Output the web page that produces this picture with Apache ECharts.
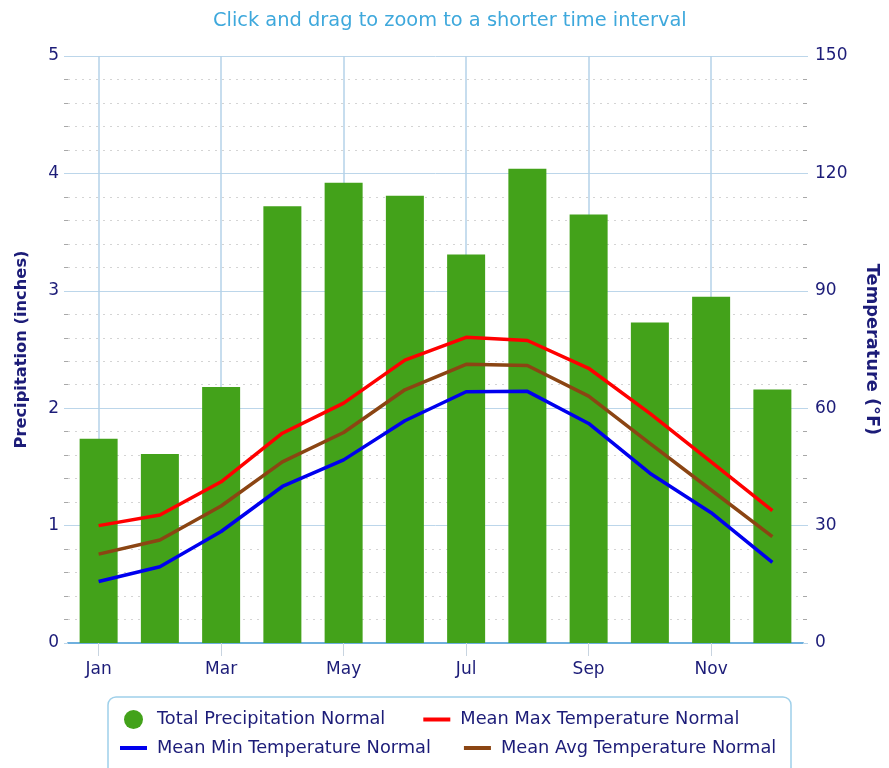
<!DOCTYPE html>
<html>
<head>
<meta charset="utf-8">
<script src="https://cdn.jsdelivr.net/npm/echarts@6/dist/echarts.min.js"></script>
<style>
  html, body { margin: 0; padding: 0; background: #fff; }
  #chart { width: 889px; height: 768px; }
</style>
</head>
<body>
<div id="chart"></div>
<script>
const months = ['Jan','Feb','Mar','Apr','May','Jun','Jul','Aug','Sep','Oct','Nov','Dec'];
const precipitation = [1.74, 1.61, 2.18, 3.72, 3.92, 3.81, 3.31, 4.04, 3.65, 2.73, 2.95, 2.16];
const maxTemp = [30.0, 32.7, 41.2, 53.6, 61.3, 72.3, 78.1, 77.3, 70.2, 58.7, 46.3, 33.8];
const avgTemp = [22.7, 26.3, 35.0, 46.3, 53.8, 64.7, 71.2, 70.9, 63.1, 51.0, 39.1, 27.2];
const minTemp = [15.7, 19.5, 28.5, 40.0, 46.8, 56.8, 64.2, 64.3, 56.1, 43.4, 33.3, 20.6];

const NAVY = '#1c1c78';
const GRID_BLUE = '#bcd6ea';
const FONT = 'DejaVu Sans';
const hideSymbol = { opacity: 0 };
const legendText = { color: NAVY, fontSize: 17.8, fontFamily: FONT, padding: [0, 0, 0, 5] };

const chart = echarts.init(document.getElementById('chart'));
chart.setOption({
  animation: false,
  textStyle: { fontFamily: FONT },
  title: {
    text: 'Click and drag to zoom to a shorter time interval',
    left: 208,
    top: 6,
    textStyle: { color: '#3ea8dc', fontSize: 19.4, fontWeight: 'normal', fontFamily: FONT }
  },
  grid: { left: 68, right: 83, top: 56, bottom: 125 },
  legend: [
    {
      data: [
        { name: 'Total Precipitation Normal', icon: 'circle' },
        { name: 'Mean Max Temperature Normal', itemStyle: hideSymbol }
      ],
      left: 119, top: 705, itemWidth: 27, itemHeight: 19, itemGap: 36,
      lineStyle: { width: 4 },
      textStyle: legendText
    },
    {
      data: [
        { name: 'Mean Min Temperature Normal', itemStyle: hideSymbol },
        { name: 'Mean Avg Temperature Normal', itemStyle: hideSymbol }
      ],
      left: 113, top: 734, itemWidth: 27, itemHeight: 19, itemGap: 31,
      lineStyle: { width: 4 },
      textStyle: legendText
    }
  ],
  graphic: [{
    type: 'rect',
    shape: { x: 108, y: 697, width: 683, height: 85, r: 8 },
    style: { fill: 'none', stroke: '#9fd0ea', lineWidth: 1.5 },
    silent: true
  }],
  xAxis: {
    type: 'category',
    data: months,
    boundaryGap: true,
    axisLine: { lineStyle: { color: '#6fb0de', width: 2 } },
    axisTick: { show: true, alignWithLabel: true, interval: 1, length: 13, lineStyle: { color: '#c8d4e0' } },
    axisLabel: { interval: 1, color: NAVY, fontSize: 17, margin: 18 },
    splitLine: { show: false }
  },
  yAxis: [
    {
      type: 'value', min: 0, max: 5, interval: 1, position: 'left',
      name: 'Precipitation (inches)', nameLocation: 'middle', nameGap: 38, nameRotate: 90,
      nameTextStyle: { color: NAVY, fontSize: 16.3, fontWeight: 'bold', fontFamily: FONT },
      axisLine: { show: false },
      axisTick: { show: true, length: 4, lineStyle: { color: GRID_BLUE } },
      minorTick: { show: true, splitNumber: 5, length: 4, lineStyle: { color: '#a8a8a8' } },
      axisLabel: { color: NAVY, fontSize: 17, margin: 9 },
      splitLine: { show: true, lineStyle: { color: GRID_BLUE, width: 1 } },
      minorSplitLine: { show: true, lineStyle: { color: '#d4d4d4', type: [2, 5] } }
    },
    {
      type: 'value', min: 0, max: 150, interval: 30, position: 'right',
      name: 'Temperature (°F)', nameLocation: 'middle', nameGap: 60, nameRotate: -90,
      nameTextStyle: { color: NAVY, fontSize: 17.8, fontWeight: 'bold', fontFamily: FONT },
      axisLine: { show: false },
      axisTick: { show: true, length: 5, lineStyle: { color: GRID_BLUE } },
      minorTick: { show: true, splitNumber: 5, length: 4, lineStyle: { color: '#a8a8a8' } },
      axisLabel: { color: NAVY, fontSize: 17, margin: 12 },
      splitLine: { show: false }
    }
  ],
  series: [
    {
      name: 'Total Precipitation Normal',
      type: 'bar',
      data: precipitation,
      barWidth: 38,
      itemStyle: { color: '#43a21a' },
      markLine: {
        silent: true, z: 1, symbol: 'none',
        label: { show: false },
        lineStyle: { color: '#b4d2e8', type: 'solid', width: 1.5 },
        data: months.filter((m, i) => i % 2 === 0).map(m => ({ xAxis: m }))
      }
    },
    {
      name: 'Mean Max Temperature Normal', type: 'line', yAxisIndex: 1, data: maxTemp,
      symbol: 'none', lineStyle: { color: '#ff0000', width: 3.5 }, itemStyle: { color: '#ff0000' }, z: 5
    },
    {
      name: 'Mean Min Temperature Normal', type: 'line', yAxisIndex: 1, data: minTemp,
      symbol: 'none', lineStyle: { color: '#0000ee', width: 3.5 }, itemStyle: { color: '#0000ee' }, z: 5
    },
    {
      name: 'Mean Avg Temperature Normal', type: 'line', yAxisIndex: 1, data: avgTemp,
      symbol: 'none', lineStyle: { color: '#8b4513', width: 3.5 }, itemStyle: { color: '#8b4513' }, z: 5
    }
  ]
});
</script>
</body>
</html>
